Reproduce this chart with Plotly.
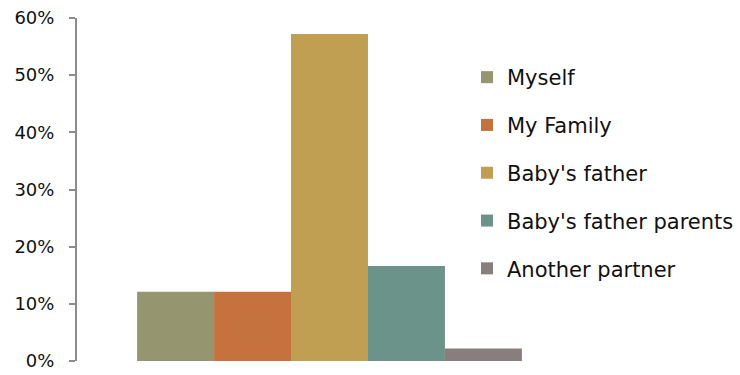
import plotly.graph_objects as go

# Who the respondent lives with / relies on (share of respondents)
categories = ["Myself", "My Family", "Baby's father", "Baby's father parents", "Another partner"]
values = [0.121, 0.121, 0.572, 0.166, 0.022]
colors = ["#959670", "#C6723E", "#C09F52", "#6C938A", "#887E7E"]
y_ticks = [0, 0.1, 0.2, 0.3, 0.4, 0.5, 0.6]
y_tick_labels = ["0%", "10%", "20%", "30%", "40%", "50%", "60%"]

W, H = 740, 375
FONT = "'DejaVu Sans', sans-serif"

fig = go.Figure()
for name, val, col in zip(categories, values, colors):
    fig.add_trace(go.Bar(
        x=[""], y=[val], name=name, legendgroup=name,
        marker=dict(color=col, line=dict(width=0)),
    ))

fig.update_layout(
    width=W, height=H,
    margin=dict(l=0, r=0, t=0, b=0, autoexpand=False),
    paper_bgcolor="white", plot_bgcolor="white",
    barmode="group", bargap=0.238, bargroupgap=0,
    font=dict(family=FONT, size=18, color="#111"),
    showlegend=True,
    legend=dict(
        x=467 / W, y=1 - 57 / H, xanchor="left", yanchor="top",
        bgcolor="rgba(0,0,0,0)", tracegroupgap=17.5,
        font=dict(family=FONT, size=21, color="#111"),
        itemwidth=30,
    ),
    xaxis=dict(
        domain=[77 / W, 582 / W], showticklabels=False, showline=False,
        showgrid=False, zeroline=False, ticks="", automargin=False,
    ),
    yaxis=dict(
        domain=[14 / H, 1 - 18 / H], range=[0, 0.6], automargin=False,
        tickvals=y_ticks, ticktext=y_tick_labels,
        showgrid=False, zeroline=False,
        showline=True, linecolor="#8c8c8c", linewidth=2,
        ticks="outside", ticklen=6, tickwidth=2, tickcolor="#8c8c8c",
        ticklabelstandoff=11,
        tickfont=dict(family=FONT, size=18, color="#111"),
    ),
)

fig.write_html("out.html")
